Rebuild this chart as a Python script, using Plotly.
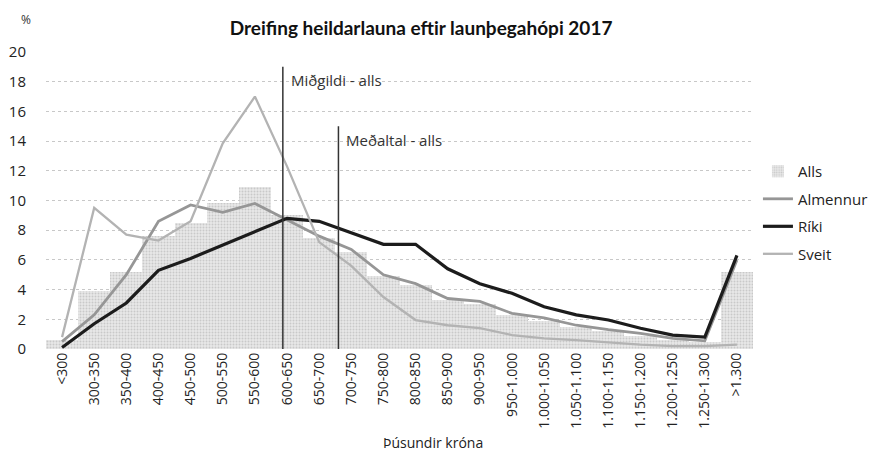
import plotly.graph_objects as go

categories = ["<300", "300-350", "350-400", "400-450", "450-500", "500-550", "550-600",
              "600-650", "650-700", "700-750", "750-800", "800-850", "850-900", "900-950",
              "950-1.000", "1.000-1.050", "1.050-1.100", "1.100-1.150", "1.150-1.200",
              "1.200-1.250", "1.250-1.300", ">1.300"]

alls = [0.6, 3.9, 5.2, 7.6, 8.5, 9.8, 10.9, 9.0, 7.5, 6.5, 4.9, 4.3, 3.3, 3.0, 2.3,
        1.9, 1.5, 1.2, 0.9, 0.6, 0.5, 5.2]
almennur = [0.5, 2.3, 5.0, 8.6, 9.7, 9.2, 9.8, 8.7, 7.6, 6.7, 5.0, 4.4, 3.4, 3.2, 2.4,
            2.1, 1.6, 1.3, 1.05, 0.72, 0.55, 6.0]
riki = [0.1, 1.7, 3.1, 5.3, 6.1, 7.0, 7.85, 8.8, 8.6, 7.8, 7.05, 7.05, 5.4, 4.4, 3.75,
        2.85, 2.3, 1.95, 1.4, 0.94, 0.8, 6.3]
sveit = [0.8, 9.5, 7.7, 7.3, 8.6, 13.85, 17.0, 12.3, 7.2, 5.6, 3.5, 1.95, 1.6, 1.4, 0.94,
         0.72, 0.6, 0.43, 0.3, 0.2, 0.2, 0.3]

y_ticks = [0, 2, 4, 6, 8, 10, 12, 14, 16, 18, 20]

# reference lines (position on category index, height in %)
median_pos, median_top, median_label = 6.87, 19.0, "Miðgildi - alls"
mean_pos, mean_top, mean_label = 8.6, 15.0, "Meðaltal - alls"

FONT = "Open Sans"
TFONT = "Lato"

fig = go.Figure()
fig.add_trace(go.Bar(
    x=categories, y=alls, name="Alls", legendgroup="a",
    marker=dict(color="#e4e4e4", line=dict(width=0),
                pattern=dict(shape=".", fgcolor="#aaaaaa", bgcolor="#e8e8e8",
                             size=3, solidity=0.35)),
))
fig.add_trace(go.Scatter(x=categories, y=almennur, name="Almennur", mode="lines",
                         legendgroup="b", line=dict(color="#969696", width=2.8)))
fig.add_trace(go.Scatter(x=categories, y=riki, name="Ríki", mode="lines",
                         legendgroup="c", line=dict(color="#1c1c1c", width=3.2)))
fig.add_trace(go.Scatter(x=categories, y=sveit, name="Sveit", mode="lines",
                         legendgroup="d", line=dict(color="#b3b3b3", width=2.3)))

for pos, top, label in [(median_pos, median_top, median_label), (mean_pos, mean_top, mean_label)]:
    fig.add_shape(type="line", xref="x", yref="y", x0=pos, x1=pos, y0=0, y1=top,
                  line=dict(color="#333333", width=1.5))
    fig.add_annotation(xref="x", yref="y", x=pos, y=top - 0.9, text=label,
                       showarrow=False, xanchor="left", xshift=6,
                       font=dict(family=FONT, size=15, color="#333333"))

fig.add_annotation(xref="paper", yref="paper", x=-0.028, y=1.108, text="%", showarrow=False,
                   xanchor="center", yanchor="middle",
                   font=dict(family=FONT, size=12, color="#333333"))

# x-axis title placed as an annotation below the rotated tick labels
fig.add_annotation(xref="paper", yref="paper", x=0.547, y=-0.315, text="Þúsundir króna",
                   showarrow=False, xanchor="center", yanchor="middle",
                   font=dict(family=FONT, size=14, color="#222222"))

fig.update_layout(
    width=877, height=447,
    margin=dict(l=38, r=128, t=44, b=106),
    paper_bgcolor="white", plot_bgcolor="white",
    bargap=0,
    title=dict(text="<b>Dreifing heildarlauna eftir launþegahópi 2017</b>",
               x=0.471, xanchor="center", y=0.955, yanchor="middle",
               font=dict(family=TFONT, size=19, color="#111111")),
    font=dict(family=FONT, size=13, color="#222222"),
    legend=dict(x=1.007, y=0.653, xanchor="left", yanchor="top",
                font=dict(family=FONT, size=15, color="#222222"),
                tracegroupgap=5, itemwidth=30, bgcolor="rgba(0,0,0,0)"),
    showlegend=True,
)
fig.update_xaxes(type="category", tickangle=-90, showgrid=False, showline=False,
                 ticks="", tickfont=dict(family=FONT, size=14, color="#222222"),
                 automargin=False,
                 range=[-0.5, len(categories) - 0.5])
fig.update_yaxes(range=[0, 20], tickvals=y_ticks, showgrid=True,
                 gridcolor="#c8c8c8", griddash="dot", gridwidth=1,
                 zeroline=False, showline=False, ticks="", automargin=False,
                 tickfont=dict(family=FONT, size=15, color="#222222"),
                 ticklabelstandoff=19)

fig.write_html("out.html")
